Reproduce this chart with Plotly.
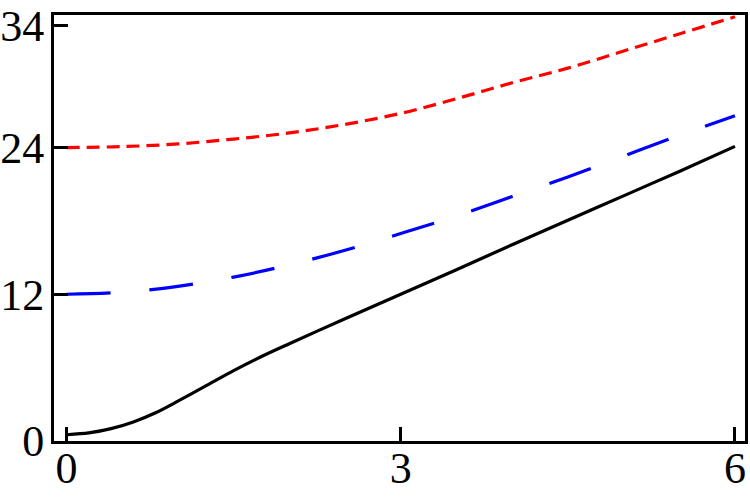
import plotly.graph_objects as go

# Black solid curve
x_black = [0, 0.2, 0.4, 0.6, 0.8, 1.0, 1.25, 1.5, 1.75, 2.0, 2.5, 3.0, 3.5, 4.0, 4.5, 5.0, 5.5, 6.0]
y_black = [0.5, 0.65, 1.0, 1.55, 2.3, 3.25, 4.5, 5.75, 6.9, 7.95, 10.0, 12.0, 14.0, 16.05, 18.05, 20.05, 22.05, 24.1]

# Blue long-dashed curve
x_blue = [0, 0.5, 1.0, 1.5, 2.0, 2.5, 3.0, 3.5, 4.0, 4.5, 5.0, 5.5, 6.0]
y_blue = [12.0, 12.16, 12.65, 13.4, 14.4, 15.6, 16.97, 18.4, 20.0, 21.6, 23.3, 25.0, 26.6]

# Red short-dashed curve
x_red = [0, 0.5, 1.0, 1.5, 2.0, 2.5, 3.0, 3.5, 4.0, 4.5, 5.0, 5.5, 6.0]
y_red = [24.0, 24.08, 24.3, 24.7, 25.2, 25.9, 26.8, 28.0, 29.3, 30.5, 31.9, 33.3, 34.7]

x_ticks = [0, 3, 6]
y_ticks = [0, 12, 24, 34]

fig = go.Figure()
fig.add_trace(go.Scatter(x=x_black, y=y_black, mode="lines",
                         line=dict(color="black", width=3.2, shape="spline", smoothing=0.8), showlegend=False))
fig.add_trace(go.Scatter(x=x_blue, y=y_blue, mode="lines",
                         line=dict(color="#0000ff", width=3.2, dash="44px,39px", shape="spline"), showlegend=False))
fig.add_trace(go.Scatter(x=x_red, y=y_red, mode="lines",
                         line=dict(color="#ff0000", width=3.2, dash="13px,7px", shape="spline"), showlegend=False))

font = dict(family="Liberation Serif, Times New Roman, serif", size=44, color="black")

fig.update_layout(
    width=750, height=497,
    margin=dict(l=54, r=5, t=15, b=56, pad=0),
    paper_bgcolor="white", plot_bgcolor="white",
    font=font,
)
fig.update_xaxes(range=[-0.112, 6.09], tickvals=x_ticks, ticktext=[str(v) for v in x_ticks],
                 ticks="inside", ticklen=14, tickwidth=3, tickcolor="black",
                 showline=True, linewidth=3, linecolor="black", mirror=True,
                 showgrid=False, zeroline=False, tickfont=font, automargin=False,
                 ticklabelstandoff=-14)
fig.update_yaxes(range=[-0.01, 34.85], tickvals=y_ticks, ticktext=[str(v) for v in y_ticks],
                 ticks="inside", ticklen=14, tickwidth=3, tickcolor="black",
                 showline=True, linewidth=3, linecolor="black", mirror=True,
                 showgrid=False, zeroline=False, tickfont=font, automargin=False,
                 ticklabelstandoff=-2)

fig.write_html("out.html", config={"displayModeBar": False},
               post_script="document.body.style.margin='0';document.body.style.overflow='hidden';")
